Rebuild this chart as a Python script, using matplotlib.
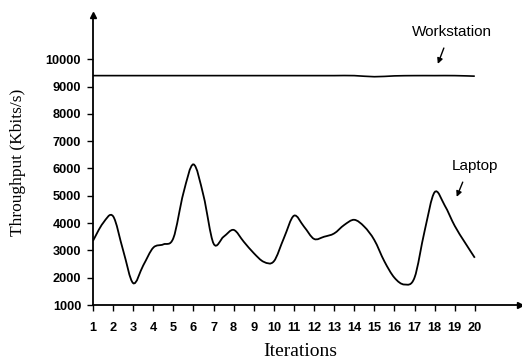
import numpy as np
import matplotlib
matplotlib.use('Agg')
import matplotlib.pyplot as plt
from matplotlib.path import Path
from matplotlib.patches import PathPatch

# laptop throughput, read every half iteration
laptop_x = [1, 1.5, 2, 2.5, 3, 3.5, 4, 4.5, 5, 5.5, 6, 6.5, 7, 7.5, 8, 8.5, 9, 9.5, 10, 10.5,
            11, 11.5, 12, 12.5, 13, 13.5, 14, 14.5, 15, 15.5, 16, 16.5, 17, 17.5, 18, 18.5, 19, 19.5, 20]
laptop_y = [3350, 4000, 4250, 3000, 1800, 2450, 3100, 3220, 3450, 5100, 6150, 5000, 3250, 3500, 3750, 3320,
            2900, 2580, 2600, 3450, 4270, 3870, 3420, 3500, 3620, 3930, 4120, 3870, 3380, 2600, 2000, 1750,
            2000, 3700, 5130, 4650, 3900, 3300, 2730]

work_x = [1, 2, 3, 4, 5, 6, 7, 8, 9, 10, 11, 12, 13, 14, 15, 16, 17, 18, 19, 20]
work_y = [9400, 9400, 9400, 9400, 9400, 9400, 9400, 9400, 9400, 9400,
          9400, 9400, 9400, 9400, 9360, 9390, 9400, 9400, 9400, 9380]

xticks = list(range(1, 21))
yticks = [1000, 2000, 3000, 4000, 5000, 6000, 7000, 8000, 9000, 10000]


def smooth_path(xs, ys):
    # excel style smoothed line: cubic bezier through every point
    p = np.column_stack([xs, ys]).astype(float)
    n = len(p)
    verts = [p[0]]
    codes = [Path.MOVETO]
    for i in range(n - 1):
        prev = p[i - 1] if i > 0 else p[i]
        nxt = p[i + 2] if i + 2 < n else p[i + 1]
        c1 = p[i] + (p[i + 1] - prev) / 6
        c2 = p[i + 1] - (nxt - p[i]) / 6
        verts += [c1, c2, p[i + 1]]
        codes += [Path.CURVE4] * 3
    return Path(verts, codes)


fig = plt.figure(figsize=(5.22, 3.63), dpi=100)
ax = fig.add_axes([93 / 522, 58 / 363, 427 / 522, 290 / 363])

ax.add_patch(PathPatch(smooth_path(work_x, work_y), fill=False, color='black', lw=1.2))
ax.add_patch(PathPatch(smooth_path(laptop_x, laptop_y), fill=False, color='black', lw=1.3))

ax.set_xlim(1, 22.25)
ax.set_ylim(1000, 11620)
ax.set_xticks(xticks)
ax.set_yticks(yticks)
ax.set_xticklabels([str(t) for t in xticks], fontsize=9.2, fontweight='bold', family='Liberation Sans')
ax.set_yticklabels([str(t) for t in yticks], fontsize=9.2, fontweight='bold', family='Liberation Sans')
ax.tick_params(axis='x', length=4, width=1, pad=8)
ax.tick_params(axis='y', length=4, width=1, pad=4.5)

for s in ['top', 'right']:
    ax.spines[s].set_visible(False)
for s in ['left', 'bottom']:
    ax.spines[s].set_linewidth(1.3)
ax.plot(1, 0, '>', color='black', ms=4, transform=ax.transAxes, clip_on=False)
ax.plot(0, 1, '^', color='black', ms=4, transform=ax.transAxes, clip_on=False)

fig.text(18 / 522, 1 - 162 / 363, 'Throughput (Kbits/s)', rotation=90, ha='center', va='center',
         fontsize=12.5, family='Liberation Serif')
fig.text(300 / 522, 1 - 352 / 363, 'Iterations', ha='center', va='center',
         fontsize=14, family='Liberation Serif')

arrow = dict(arrowstyle='-|>', color='black', lw=1, mutation_scale=8, shrinkA=0, shrinkB=0)
ax.annotate('', xy=(18.16, 9830), xytext=(18.46, 10410), arrowprops=arrow)
ax.text(18.86, 11000, 'Workstation', ha='center', va='center', fontsize=11, family='Liberation Sans')
ax.annotate('', xy=(19.1, 4960), xytext=(19.4, 5500), arrowprops=arrow)
ax.text(20.0, 6090, 'Laptop', ha='center', va='center', fontsize=11, family='Liberation Sans')

fig.savefig('out.png', dpi=100)
